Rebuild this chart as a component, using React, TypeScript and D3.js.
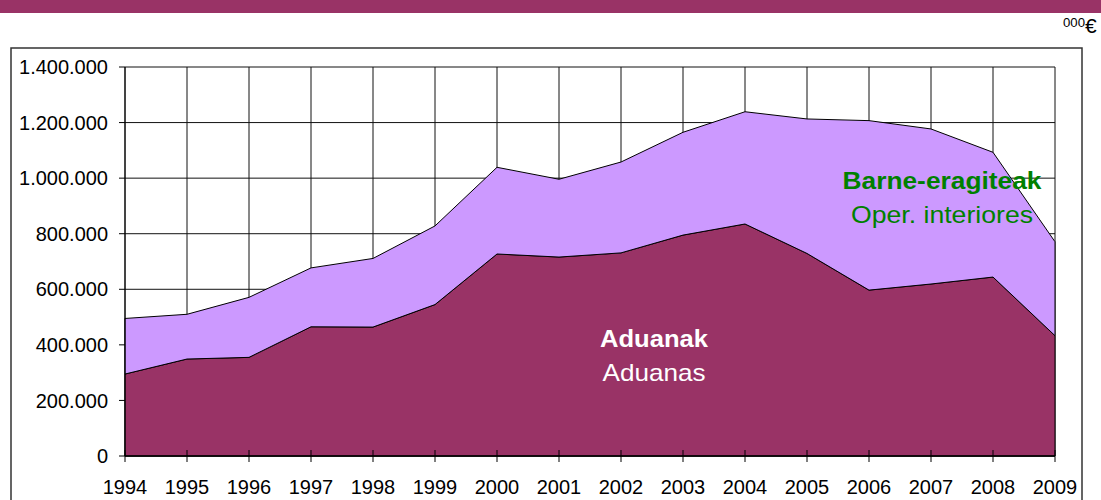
import React from "react";
import * as d3 from "d3";

const years = ["1994","1995","1996","1997","1998","1999","2000","2001","2002","2003","2004","2005","2006","2007","2008","2009"];
const aduanak = [295000, 349000, 355000, 465000, 464000, 545000, 727000, 716000, 731000, 795000, 835000, 729000, 597000, 619000, 644000, 433000];
const barneEragiteak = [200000, 161000, 216000, 212000, 247000, 283000, 312000, 280000, 327000, 370000, 404000, 484000, 610000, 558000, 449000, 338000];
const yTicks = [0, 200000, 400000, 600000, 800000, 1000000, 1200000, 1400000];

const W = 1101, H = 500;
const plot = { left: 125, right: 1055, top: 67, bottom: 456 };
const FONT = "'Liberation Sans', Arial, Helvetica, sans-serif";

const fmt = (v: number) => (v === 0 ? "0" : d3.format(",")(v).replace(/,/g, "."));

export default function App() {
  const x = d3.scalePoint<string>().domain(years).range([plot.left, plot.right]);
  const y = d3.scaleLinear().domain([0, 1400000]).range([plot.bottom, plot.top]);

  const rows = years.map((yr, i) => ({ year: yr, aduanak: aduanak[i], barne: barneEragiteak[i] }));
  const stacked = d3.stack<any>().keys(["aduanak", "barne"])(rows);
  const area = d3
    .area<any>()
    .x((d) => x(d.data.year) as number)
    .y0((d) => y(d[0]))
    .y1((d) => y(d[1]));
  const colors = ["#993366", "#CC99FF"];

  return (
    <svg width={W} height={H} style={{ position: "absolute", left: 0, top: 0, background: "#fff" }} fontFamily={FONT}>
      <rect x={0} y={0} width={W} height={13} fill="#993366" />
      <text x={1063} y={27} fontSize={13} fill="#000" textLength={22} lengthAdjust="spacingAndGlyphs">000</text>
      <text x={1085} y={33} fontSize={21} fill="#000">€</text>
      <rect x={11} y={48} width={1071} height={470} fill="#fff" stroke="#333" strokeWidth={1.5} />

      {/* gridlines */}
      {yTicks.map((t) => (
        <line key={"gy" + t} x1={plot.left} x2={plot.right} y1={y(t)} y2={y(t)} stroke="#111" strokeWidth={1} />
      ))}
      {years.map((yr) => (
        <line key={"gx" + yr} x1={x(yr)} x2={x(yr)} y1={plot.top} y2={plot.bottom} stroke="#111" strokeWidth={1} />
      ))}

      {/* areas */}
      {stacked.map((s, i) => (
        <path key={s.key} d={area(s as any) || ""} fill={colors[i]} stroke="#000" strokeWidth={1} strokeLinejoin="round" />
      ))}

      {/* axes */}
      <line x1={plot.left} x2={plot.left} y1={plot.top} y2={plot.bottom} stroke="#000" strokeWidth={1} />
      <line x1={plot.left} x2={plot.right} y1={plot.bottom} y2={plot.bottom} stroke="#000" strokeWidth={1.5} />
      {yTicks.map((t) => (
        <g key={"yt" + t}>
          <line x1={plot.left - 6} x2={plot.left} y1={y(t)} y2={y(t)} stroke="#000" />
          <text x={108} y={y(t)} dy="0.36em" textAnchor="end" fontSize={20} fill="#000">{fmt(t)}</text>
        </g>
      ))}
      {years.map((yr) => (
        <g key={"xt" + yr}>
          <line x1={x(yr)} x2={x(yr)} y1={plot.bottom - 6} y2={plot.bottom + 6} stroke="#000" />
          <text x={x(yr)} y={494} textAnchor="middle" fontSize={20} fill="#000">{yr}</text>
        </g>
      ))}

      {/* labels */}
      <text x={654} y={347} textAnchor="middle" fontSize={24} fontWeight="bold" fill="#fff" textLength={108} lengthAdjust="spacingAndGlyphs">Aduanak</text>
      <text x={654} y={381} textAnchor="middle" fontSize={24} fill="#fff" textLength={103} lengthAdjust="spacingAndGlyphs">Aduanas</text>
      <text x={942} y={189} textAnchor="middle" fontSize={24} fontWeight="bold" fill="#008000" textLength={199} lengthAdjust="spacingAndGlyphs">Barne-eragiteak</text>
      <text x={942} y={223} textAnchor="middle" fontSize={24} fill="#008000" textLength={182} lengthAdjust="spacingAndGlyphs">Oper. interiores</text>
    </svg>
  );
}
